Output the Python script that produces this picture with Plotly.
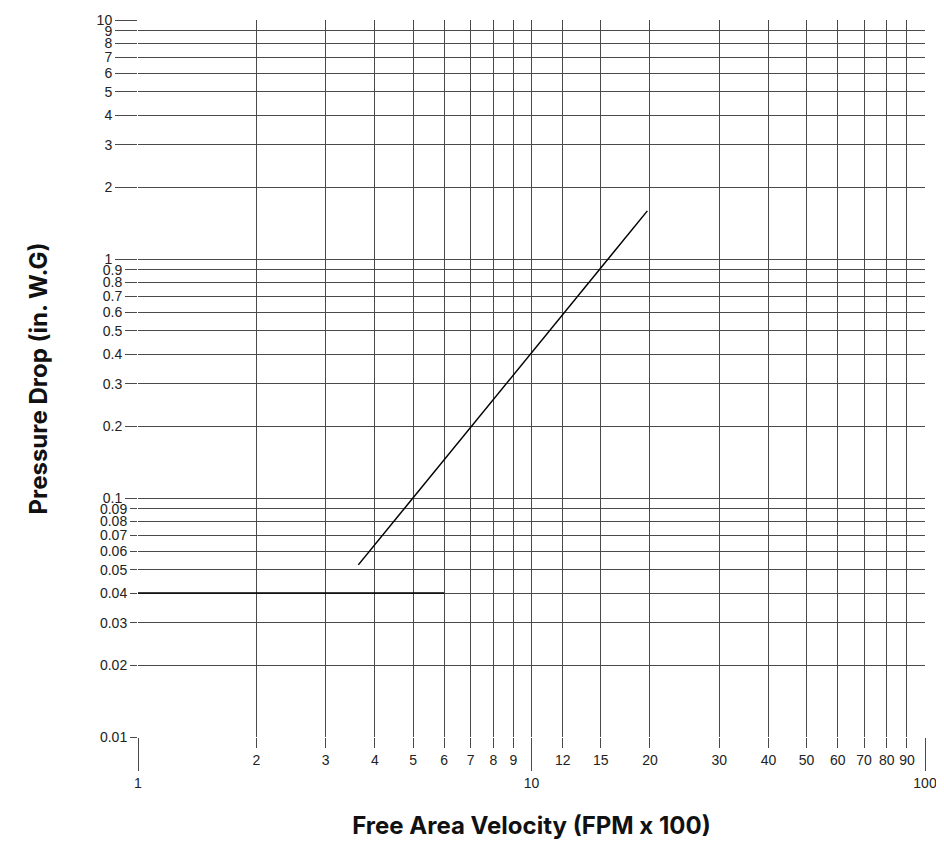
import plotly.graph_objects as go

# Pressure drop curve (velocity in FPM x 100, pressure in in. W.G)
curve_velocity = [3.63, 19.7]
curve_pressure = [0.0525, 1.59]

# Minimum pressure drop line
floor_velocity = [1, 6]
floor_pressure = [0.04, 0.04]

# Tick values / labels
x_major = [1, 10, 100]
x_minor = [2, 3, 4, 5, 6, 7, 8, 9, 12, 15, 20, 30, 40, 50, 60, 70, 80, 90]
y_units = [1, 2, 3, 4, 5, 6, 7, 8, 9, 10]
y_tenths = [0.1, 0.2, 0.3, 0.4, 0.5, 0.6, 0.7, 0.8, 0.9]
y_hundredths = [0.01, 0.02, 0.03, 0.04, 0.05, 0.06, 0.07, 0.08, 0.09]

grid = "#4a4a4a"
tick_font = dict(family="Liberation Sans, Arial", size=14, color="#222222")
title_font = dict(family="Inter", size=24, color="#111111")

fig = go.Figure()
fig.add_trace(go.Scatter(x=curve_velocity, y=curve_pressure, mode="lines",
                         line=dict(color="black", width=1.5), showlegend=False))
fig.add_trace(go.Scatter(x=floor_velocity, y=floor_pressure, mode="lines",
                         line=dict(color="black", width=1.5), showlegend=False))

xcommon = dict(type="log", range=[0, 2], showgrid=True, gridcolor=grid, gridwidth=1,
               ticks="outside", tickcolor=grid, tickwidth=1, tickmode="array",
               tickfont=tick_font, zeroline=False, showline=False, automargin=False,
               ticklabeloverflow="allow")
ycommon = dict(type="log", range=[-2, 1], showgrid=True, gridcolor=grid, gridwidth=1,
               ticks="outside", tickcolor=grid, tickwidth=1, tickmode="array",
               tickfont=tick_font, zeroline=False, showline=False, automargin=False)

# page body has an 8px margin, so the figure is offset by 8px
fig.update_layout(
    width=936, height=833,
    margin=dict(l=130, r=19, t=12, b=104),
    paper_bgcolor="white", plot_bgcolor="white",
    xaxis=dict(xcommon, tickvals=x_major, ticktext=[str(v) for v in x_major],
               ticklen=33,
               title=dict(text="<b>Free Area Velocity (FPM x 100)</b>",
                          font=title_font, standoff=27)),
    xaxis2=dict(xcommon, tickvals=x_minor, ticktext=[str(v) for v in x_minor],
                ticklen=10, overlaying="x", anchor="y", side="bottom"),
    yaxis=dict(ycommon, tickvals=y_units, ticktext=[str(v) for v in y_units],
               ticklen=22,
               title=dict(text="<b>Pressure Drop (in. W.G)</b>",
                          font=title_font, standoff=42)),
    yaxis2=dict(ycommon, tickvals=y_tenths, ticktext=[str(v) for v in y_tenths],
                ticklen=12, overlaying="y", anchor="x", side="left"),
    yaxis3=dict(ycommon, tickvals=y_hundredths, ticktext=[str(v) for v in y_hundredths],
                ticklen=7, overlaying="y", anchor="x", side="left"),
)

# empty traces so the overlaid axes get drawn
fig.add_trace(go.Scatter(x=[None], y=[None], xaxis="x2", yaxis="y", showlegend=False, hoverinfo="skip"))
fig.add_trace(go.Scatter(x=[None], y=[None], xaxis="x", yaxis="y2", showlegend=False, hoverinfo="skip"))
fig.add_trace(go.Scatter(x=[None], y=[None], xaxis="x", yaxis="y3", showlegend=False, hoverinfo="skip"))

fig.write_html("out.html")
